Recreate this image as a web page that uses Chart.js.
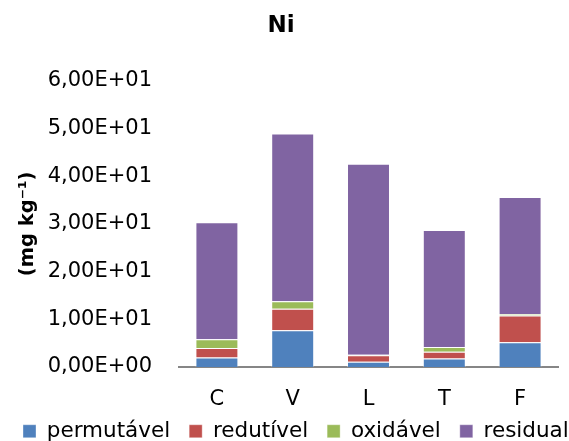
<!DOCTYPE html>
<html><head><meta charset="utf-8">
<script src="https://cdn.jsdelivr.net/npm/chart.js@4.4.0/dist/chart.umd.min.js"></script>
<style>html,body{margin:0;padding:0;background:#fff}#wrap{width:569px;height:441px}</style>
</head><body><div id="wrap"><canvas id="c" width="569" height="441"></canvas></div>
<script>
const categories = ["C", "V", "L", "T", "F"];
const permutavel = [2.0, 7.7, 1.1, 1.8, 5.2];
const redutivel = [2.0, 4.5, 1.35, 1.4, 5.6];
const oxidavel = [1.8, 1.6, 0.1, 1.0, 0.3];
const residual = [24.5, 35.1, 40.05, 24.5, 24.5];
const yTicks = [0, 10, 20, 30, 40, 50, 60];

function fmt(v){
  const s = Number(v).toExponential(2).split("e");
  const m = s[0].replace(".", ",");
  let e = parseInt(s[1], 10);
  const sign = e < 0 ? "-" : "+";
  e = Math.abs(e);
  return m + "E" + sign + (e < 10 ? "0" + e : "" + e);
}
const FONT = "'DejaVu Sans', sans-serif";
const EDGE = "rgba(255,255,255,0.35)";
const WIDE = 2000;
const chart = new Chart(document.getElementById("c"), {
  type: "bar",
  data: {
    labels: categories,
    datasets: [
      {label: "permutável", data: permutavel, backgroundColor: "#4F81BD", borderColor: EDGE, borderWidth: 1},
      {label: "redutível", data: redutivel, backgroundColor: "#C0504D", borderColor: EDGE, borderWidth: 1},
      {label: "oxidável", data: oxidavel, backgroundColor: "#9BBB59", borderColor: EDGE, borderWidth: 1},
      {label: "residual", data: residual, backgroundColor: "#8064A2", borderColor: EDGE, borderWidth: 1}
    ]
  },
  options: {
    responsive: false,
    animation: false,
    devicePixelRatio: 1,
    layout: {padding: {left: 4, right: 11, top: 0, bottom: -11}},
    datasets: {bar: {categoryPercentage: 0.567, barPercentage: 1}},
    plugins: {
      title: {display: true, text: "Ni", color: "#000", font: {family: FONT, size: 23, weight: "bold"}, padding: {top: 12, bottom: 41}},
      legend: {position: "bottom", align: "start", labels: {color: "#000", boxWidth: 13, boxHeight: 13, padding: 19, font: {family: FONT, size: 21.5}}},
      tooltip: {enabled: false}
    },
    scales: {
      x: {
        stacked: true,
        afterFit: (s) => { s.height = 34.5; s._computeLabelArea = function(){ return undefined; }; },
        grid: {display: false, drawTicks: false},
        border: {display: true, color: "#868686", width: 2},
        ticks: {color: "#000", font: {family: FONT, size: 21}, padding: 20}
      },
      y: {
        stacked: true,
        min: 0, max: 60,
        afterFit: (s) => { s.width = 175; },
        afterBuildTicks: (ax) => { ax.ticks = yTicks.map(v => ({value: v})); },
        grid: {display: false, drawTicks: false},
        border: {display: false},
        ticks: {color: "#000", font: {family: FONT, size: 21}, padding: 27, callback: (v) => fmt(v)},
        title: {display: true, text: "(mg kg⁻¹)", color: "#000", font: {family: FONT, size: 19.5, weight: "bold"}, padding: {top: 12, bottom: 0}}
      }
    }
  }
});
// let the legend keep all four entries on one row, like the reference
const lg = chart.legend;
if (lg && lg._fitRows) {
  const fitRows = lg._fitRows;
  lg._fitRows = function(...a){ const m = this.maxWidth; this.maxWidth = WIDE; try { return fitRows.apply(this, a); } finally { this.maxWidth = m; } };
  const draw = lg.draw;
  lg.draw = function(){ const r = this.right, w = this.width; this.right = WIDE; this.width = WIDE - this.left; try { draw.call(this); } finally { this.right = r; this.width = w; } };
  chart.update();
}
</script></body></html>
